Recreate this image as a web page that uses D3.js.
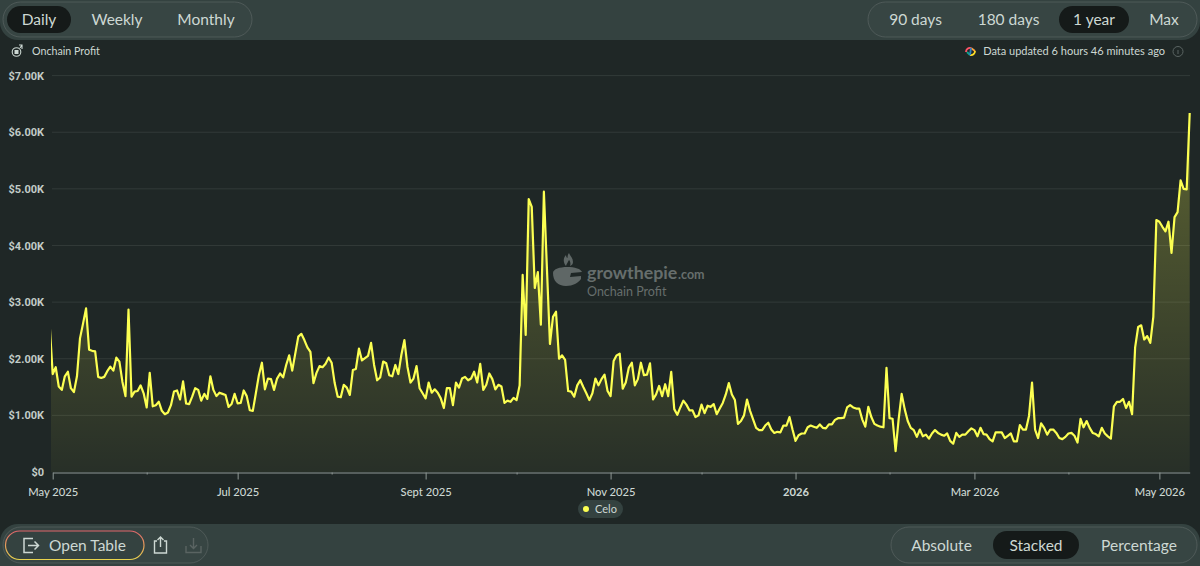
<!DOCTYPE html>
<html lang="en">
<head>
<meta charset="UTF-8">
<title>Onchain Profit</title>
<style>
  html, body { margin: 0; padding: 0; background: #1f2726; }
  svg { display: block; }
  text { font-family: Lato, "Open Sans", sans-serif; fill: #cdd8d3; }
  .ylab text { font-family: Roboto, sans-serif; font-weight: 700; font-size: 11px; }
</style>
</head>
<body>
<svg id="chart" width="1200" height="566"></svg>
<script src="https://d3js.org/d3.v7.min.js"></script>
<script>

// daily onchain profit in USD. The first value is
// the day before the axis starts, the chart clips it at the left edge.
var firstDay = new Date(Date.UTC(2025, 3, 30));
var profit2025a = [2600,
  1730,1850,1510,1450,1690,1770,1480,1410,1690,2360,2620,2890,2160,2140,2130,1680,1660,1680,1780,1860,1790,2020,1950,1590,1340,2870,1330,1420,1430,1530,1390,
  1140,1750,1160,1180,1240,1080,1020,1050,1180,1420,1440,1280,1600,1210,1200,1330,1480,1450,1260,1380,1290,1690,1450,1340,1400,1380,1360,1150,1200,
  1380,1210,1220,1440,1340,1090,1080,1390,1710,1930,1460,1650,1640,1450,1650,1740,1670,1890,2060,1790,2090,2390,
  2440,2330,2200,2120,1570,1750,1870,1850,1910,2020,1930,1570,1330,1320,1540,1490,1360,1800,1820,2180,1970,2010,2050,2280,1890,1620,1670,1950,1920,1710,1690];
var profit2025b = [1890,1730,2070,2330,1860,1580,1650,1870,1480,1390,1300,1580,1400,1460,1400,1300,1130,1480,1480,1180,1580,1490,1650,1680,1620,1650,1770,1580,1910,1450,
  1540,1740,1640,1460,1540,1510,1220,1260,1240,1310,1270,1530,3480,2420,4820,4680,3250,3530,2600,4950,3600,2260,2740,2830,2000,2060,1980,1430,1420,1330,1530,
  1620,1500,1390,1270,1390,1650,1530,1640,1720,1430,1340,1960,2060,2090,1470,1580,1840,1930,1530,1640,1930,1710,1720,1920,1280,1370,1520,1340,1550,1340,1770,
  1110,1010,1140,1260,1190,1090,1090,970,1000,1190,1040,1170,1150,1200,1020,1120,1220,1370,1570,1370,1270,850,900,1000,1280,1080,930,780,740,740,820,870,750,690,710,700];
var profit2026 = [820,820,970,750,550,650,680,680,790,820,800,780,840,780,770,840,840,920,950,950,960,1140,1180,1140,1120,1120,930,800,1150,970,850,820,800,790,1840,950,940,370,930,
  1380,1110,900,780,740,620,750,630,660,590,680,740,690,660,640,680,550,500,690,620,660,660,720,770,740,630,780,670,660,580,540,700,700,700,600,640,680,540,540,830,750,750,990,1580,
  750,600,860,780,660,750,750,690,600,580,620,680,690,640,520,940,790,900,780,690,670,630,780,680,630,590,1160,1240,1240,1290,1130,1240,1020,
  2200,2560,2590,2340,2400,2280,2740,4450,4420,4330,4250,4420,3870,4500,4590,5150,5000,4990,6340];

var profitValues = profit2025a.concat(profit2025b, profit2026);
var seriesName = "Celo";
var yTicks = [0, 1000, 2000, 3000, 4000, 5000, 6000, 7000];
var yLabels = ["$0", "$1.00K", "$2.00K", "$3.00K", "$4.00K", "$5.00K", "$6.00K", "$7.00K"];
var monthLabels = {"2025-05": "May 2025", "2025-07": "Jul 2025", "2025-09": "Sept 2025", "2025-11": "Nov 2025", "2026-01": "2026", "2026-03": "Mar 2026", "2026-05": "May 2026"};
var granularity = ["Daily", "Weekly", "Monthly"];
var timespans = ["90 days", "180 days", "1 year", "Max"];
var displayModes = ["Absolute", "Stacked", "Percentage"];

var svg = d3.select("#chart");
var defs = svg.append("defs");

var x = d3.scaleUtc()
  .domain([new Date(Date.UTC(2025, 4, 1)), new Date(Date.UTC(2026, 4, 11))])
  .range([52.7, 1189.7]);
var y = d3.scaleLinear().domain([0, 7000]).range([472, 75.6]);

var points = profitValues.map(function (v, i) {
  return {date: d3.utcDay.offset(firstDay, i), value: v};
});

// fill fades out towards the bottom
var grad = defs.append("linearGradient").attr("id", "areaFill")
  .attr("gradientUnits", "userSpaceOnUse")
  .attr("x1", 0).attr("x2", 0).attr("y1", 112).attr("y2", 472);
grad.append("stop").attr("offset", 0).attr("stop-color", "#fcff52").attr("stop-opacity", 0.28);
grad.append("stop").attr("offset", 1).attr("stop-color", "#fcff52").attr("stop-opacity", 0.04);

var btnGrad = defs.append("linearGradient").attr("id", "tableStroke")
  .attr("x1", 0).attr("x2", 0).attr("y1", 0).attr("y2", 1);
btnGrad.append("stop").attr("offset", 0).attr("stop-color", "#e0656b");
btnGrad.append("stop").attr("offset", 1).attr("stop-color", "#e8d34e");

defs.append("clipPath").attr("id", "plotClip").append("rect")
  .attr("x", 51).attr("y", 60).attr("width", 1142).attr("height", 412.5);

// top and bottom bars, rounded towards the chart and running off the page
svg.append("rect").attr("y", -30).attr("width", 1200).attr("height", 70).attr("rx", 18).attr("fill", "#344240");
svg.append("rect").attr("y", 524).attr("width", 1200).attr("height", 70).attr("rx", 18).attr("fill", "#344240");

function drawPills(labels, active, box, slots) {
  var g = svg.append("g");
  g.append("rect").attr("x", box.x).attr("y", box.y).attr("width", box.w).attr("height", box.h)
    .attr("rx", box.h / 2).attr("fill", "#3a4845").attr("fill-opacity", 0.5)
    .attr("stroke", "#5a6462").attr("stroke-opacity", 0.7);
  labels.forEach(function (label, i) {
    var s = slots[i];
    if (label === active) {
      g.append("rect").attr("x", s.x0).attr("y", box.y + 4).attr("width", s.x1 - s.x0).attr("height", box.h - 8)
        .attr("rx", (box.h - 8) / 2).attr("fill", "#151a19");
    }
    g.append("text").attr("x", (s.x0 + s.x1) / 2).attr("y", box.y + box.h / 2 + 5.5)
      .attr("text-anchor", "middle").attr("font-size", 15.5).text(label);
  });
}

drawPills(granularity, "Daily", {x: 3, y: 2, w: 249, h: 35},
  [{x0: 7, x1: 71}, {x0: 84, x1: 150}, {x0: 170, x1: 242}]);
drawPills(timespans, "1 year", {x: 868, y: 2, w: 329, h: 35},
  [{x0: 880, x1: 951}, {x0: 970, x1: 1047}, {x0: 1059, x1: 1129}, {x0: 1143, x1: 1185}]);
drawPills(displayModes, "Stacked", {x: 891, y: 527, w: 306, h: 36},
  [{x0: 903, x1: 980}, {x0: 993, x1: 1079}, {x0: 1092, x1: 1186}]);

// left bottom group
svg.append("rect").attr("x", 3).attr("y", 527).attr("width", 205).attr("height", 36).attr("rx", 18)
  .attr("fill", "#3a4845").attr("fill-opacity", 0.5).attr("stroke", "#5a6462").attr("stroke-opacity", 0.7);
svg.append("rect").attr("x", 5.5).attr("y", 531).attr("width", 138.5).attr("height", 28.5).attr("rx", 14.2)
  .attr("fill", "#344240").attr("stroke", "url(#tableStroke)").attr("stroke-width", 1.2);
svg.append("text").attr("x", 49).attr("y", 551).attr("font-size", 15.5).text("Open Table");
svg.append("path").attr("d", "M33 538.5h-9v14h9M28 545.5h10.500M34.500 541.500l4 4-4 4")
  .attr("fill", "none").attr("stroke", "#cdd8d3").attr("stroke-width", 1.5);
svg.append("path").attr("d", "M157 541h-2.500v12h12v-12h-2.500M160.500 547v-10M157.500 540l3-3 3 3")
  .attr("fill", "none").attr("stroke", "#cdd8d3").attr("stroke-width", 1.4);
svg.append("path").attr("d", "M186 546v6.500h15v-6.500M193.500 538v10M190 545l3.500 3.500 3.500-3.500")
  .attr("fill", "none").attr("stroke", "#5a6462").attr("stroke-width", 1.4);

// chart header
svg.append("circle").attr("cx", 16.500).attr("cy", 52).attr("r", 4.300)
  .attr("fill", "none").attr("stroke", "#cdd8d3").attr("stroke-width", 1.1);
svg.append("rect").attr("x", 14.500).attr("y", 50).attr("width", 4).attr("height", 4).attr("fill", "#cdd8d3");
svg.append("path").attr("d", "M20 48l2-3M22 49v-4h-3")
  .attr("fill", "none").attr("stroke", "#cdd8d3").attr("stroke-width", 1.1);
svg.append("text").attr("x", 32).attr("y", 55).attr("font-size", 10.700).text("Onchain Profit");

// small coloured swirl in front of the update note
var swirl = [["M966 52a4 4 0 0 1 5-4", "#fe5468"], ["M971 48l4 3", "#ffa03a"], ["M975 51a4 4 0 0 1-5 4", "#ffdf27"], ["M970 55l-3-3", "#11a38a"], ["M971 48l-1 7", "#2f7fc4"]];
svg.append("g").selectAll("path").data(swirl).enter().append("path")
  .attr("d", function (d) { return d[0]; }).attr("stroke", function (d) { return d[1]; })
  .attr("fill", "none").attr("stroke-width", 1.800);
svg.append("text").attr("x", 1165).attr("y", 55).attr("text-anchor", "end").attr("font-size", 11)
  .text("Data updated 6 hours 46 minutes ago");
svg.append("circle").attr("cx", 1178).attr("cy", 51.500).attr("r", 5)
  .attr("fill", "none").attr("stroke", "#5a6462");
svg.append("path").attr("d", "M1178 50v4").attr("stroke", "#5a6462");

// y axis with grid lines
var yAxis = svg.append("g").attr("class", "ylab").attr("transform", "translate(52,0)")
  .call(d3.axisLeft(y).tickValues(yTicks)
    .tickFormat(function (d, i) { return yLabels[i]; }).tickSize(0).tickPadding(8));
yAxis.select(".domain").remove();
yAxis.selectAll("text").style("fill", "#c2ccc8");
svg.append("g").selectAll("line").data(yTicks.slice(1)).enter().append("line")
  .attr("x1", 52).attr("x2", 1190)
  .attr("y1", function (d) { return y(d); }).attr("y2", function (d) { return y(d); })
  .attr("stroke", "#cdd8d3").attr("stroke-opacity", 0.11);

// watermark
var mark = svg.append("g").attr("fill", "#5f6766");
mark.append("path").attr("d", "M553 273c0-4 7-6 14-6 8 0 14 2 15 5l-11 1-1 4 11-1v3c-3 4-8 7-15 7-8 0-13-5-13-13z");
mark.append("path").attr("d", "M566 266c-3-4-3-8 0-11 0 2 1 3 1.500 3 0-2 .500-4 1.500-5 1 3 4 5 4 9 0 2-1 3-3 4 1-3 0-5-1-6-1 2-2 3-3 6z");
mark.append("text").attr("x", 587).attr("y", 279).attr("font-size", 17.800).attr("font-weight", 700)
  .style("fill", "#666e6c").text("growthepie");
mark.append("text").attr("x", 678).attr("y", 279).attr("font-size", 12.500).attr("font-weight", 700)
  .style("fill", "#666e6c").text(".com");
mark.append("text").attr("x", 587).attr("y", 296).attr("font-size", 12.500)
  .style("fill", "#666e6c").text("Onchain Profit");

// series
var area = d3.area()
  .x(function (d) { return x(d.date); })
  .y0(y(0))
  .y1(function (d) { return y(d.value); });
var line = d3.line()
  .x(function (d) { return x(d.date); })
  .y(function (d) { return y(d.value); });

var plot = svg.append("g").attr("clip-path", "url(#plotClip)");
plot.append("path").datum(points).attr("d", area).attr("fill", "url(#areaFill)");
plot.append("path").datum(points).attr("d", line)
  .attr("fill", "none").attr("stroke", "#fcff52").attr("stroke-width", 2.2).attr("stroke-linejoin", "round");

// x axis, labelled every other month
var months = d3.utcMonth.range(new Date(Date.UTC(2025, 4, 1)), new Date(Date.UTC(2026, 4, 11)));
var fmtKey = d3.utcFormat("%Y-%m");
var xAxis = svg.append("g").attr("transform", "translate(0,472.500)")
  .call(d3.axisBottom(x).tickValues(months).tickSizeOuter(0).tickSize(0)
    .tickFormat(function (d) { return monthLabels[fmtKey(d)] || ""; }).tickPadding(16));
xAxis.select(".domain").attr("stroke", "#8f9895").attr("stroke-width", 1);
xAxis.selectAll(".tick line").attr("stroke", "#8f9895")
  .attr("y2", function (d) { return monthLabels[fmtKey(d)] ? 7 : 2; });
xAxis.selectAll(".tick text")
  .style("font-family", "Lato, sans-serif").style("font-size", "11.2px").style("fill", "#cdd8d3")
  .style("font-weight", function (d) { return fmtKey(d) === "2026-01" ? 700 : 500; });

// legend
var legend = svg.append("g");
legend.append("rect").attr("x", 578).attr("y", 500).attr("width", 45).attr("height", 18).attr("rx", 9).attr("fill", "#344240");
legend.append("circle").attr("cx", 586).attr("cy", 509).attr("r", 3).attr("fill", "#fcff52");
legend.append("text").attr("x", 595).attr("y", 513).attr("font-size", 11).text(seriesName);

</script>
</body>
</html>
